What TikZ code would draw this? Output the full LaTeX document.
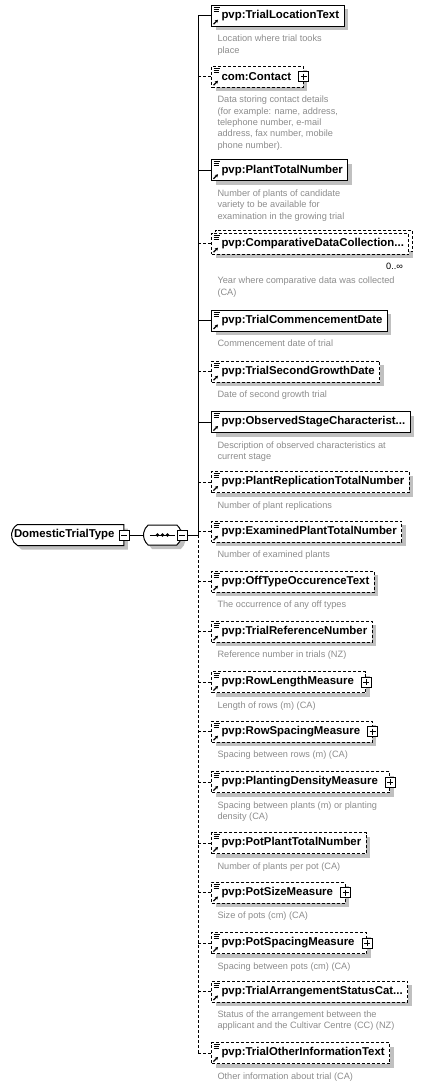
\documentclass[tikz,border=0pt]{standalone}
\usepackage{fontspec}
\setmainfont{Liberation Sans}
\usetikzlibrary{shapes.misc,shadows,arrows.meta}
\definecolor{desctext}{RGB}{140,140,140}
\definecolor{shadowgray}{RGB}{192,192,192}

\begin{document}
\begin{tikzpicture}[
  x=1pt, y=-1pt, line width=1pt,
  opt/.style={dash pattern=on 3pt off 2pt},
  elem/.style={draw, fill=white, anchor=west, minimum height=21pt,
    inner xsep=5pt, inner ysep=0pt,
    font=\fontsize{11.4}{13}\selectfont\bfseries,
    general shadow={fill=shadowgray, shadow xshift=4pt, shadow yshift=-4pt},
    execute at begin node={\hspace*{5pt}},
    path picture={
      \draw[solid, line width=0.8pt]
        ([shift={(2pt,-2pt)}]path picture bounding box.north west) -- ++(6pt,0pt)
        ([shift={(2pt,-4pt)}]path picture bounding box.north west) -- ++(5pt,0pt)
        ([shift={(2pt,-6pt)}]path picture bounding box.north west) -- ++(5pt,0pt);
      \draw[solid, line width=1.2pt, -{Stealth[length=3pt,width=3.5pt]}]
        ([shift={(2pt,2pt)}]path picture bounding box.south west) -- ++(4.5pt,4.5pt);
    }},
  kids/.style={execute at end node={\hspace*{7pt}}},
  desc/.style={anchor=north west, inner sep=0pt, align=left, text=desctext,
    font=\fontsize{9.2}{11.3}\selectfont},
  plusbox/.style={draw, solid, fill=white, minimum size=10pt, inner sep=0pt,
    path picture={\draw[solid]
      ([yshift=-2pt]path picture bounding box.north) -- ([yshift=2pt]path picture bounding box.south)
      ([xshift=2pt]path picture bounding box.west) -- ([xshift=-2pt]path picture bounding box.east);}},
  minusbox/.style={draw, solid, fill=white, minimum size=10pt, inner sep=0pt,
    path picture={\draw[solid]
      ([xshift=2pt]path picture bounding box.west) -- ([xshift=-2pt]path picture bounding box.east);}}
]
  \useasboundingbox (0,0) rectangle (431,1086);

  % root and sequence
  \node[draw, fill=white, anchor=west, rounded rectangle, rounded rectangle right arc=none,
    rounded rectangle arc length=120, minimum width=119pt, minimum height=21pt, inner ysep=0pt,
    font=\fontsize{11.4}{13}\selectfont\bfseries,
    general shadow={fill=shadowgray, shadow xshift=4pt, shadow yshift=-4pt}]
    (root) at (11,535) {DomesticTrialType\hspace*{8pt}};
  \node[minusbox] (rootminus) at (root.east) {};
  \node[draw, fill=white, anchor=west, rounded rectangle, rounded rectangle arc length=100,
    minimum width=38pt, minimum height=20pt, inner sep=0pt,
    general shadow={fill=shadowgray, shadow xshift=4pt, shadow yshift=-4pt},
    path picture={
      \draw[solid, line width=1pt] ([xshift=7pt]path picture bounding box.west) -- ([xshift=-7pt]path picture bounding box.east);
      \fill[black] ([xshift=-5pt]path picture bounding box.center) circle (1.8pt)
            (path picture bounding box.center) circle (1.8pt)
            ([xshift=5pt]path picture bounding box.center) circle (1.8pt);
    }] (seq) at (143,535) {};
  \node[minusbox] (seqminus) at (seq.east) {};
  \coordinate (bus) at (198,535);

  % child elements
  \node[elem] (loc) at (211,15.7) {pvp:TrialLocationText};
  \node[elem, opt, kids] (contact) at (211,76.7) {com:Contact};
  \node[plusbox] (contactplus) at (contact.east) {};
  \node[elem] (plantnum) at (211,170.3) {pvp:PlantTotalNumber};
  \node[elem, opt, general shadow={draw, fill=white, opt, shadow xshift=4pt, shadow yshift=3pt}]
    (compdata) at (211,243.7) {pvp:ComparativeDataCollection...};
  \node[elem] (commdate) at (211,320.5) {pvp:TrialCommencementDate};
  \node[elem, opt] (secdate) at (211,371.7) {pvp:TrialSecondGrowthDate};
  \node[elem] (obsstage) at (211,422) {pvp:ObservedStageCharacterist...};
  \node[elem, opt] (replic) at (211,482) {pvp:PlantReplicationTotalNumber};
  \node[elem, opt] (examined) at (211,531.7) {pvp:ExaminedPlantTotalNumber};
  \node[elem, opt] (offtype) at (211,581.7) {pvp:OffTypeOccurenceText};
  \node[elem, opt] (refnum) at (211,631.7) {pvp:TrialReferenceNumber};
  \node[elem, opt, kids] (rowlen) at (211,682) {pvp:RowLengthMeasure};
  \node[plusbox] (rowlenplus) at (rowlen.east) {};
  \node[elem, opt, kids] (rowspace) at (211,731.7) {pvp:RowSpacingMeasure};
  \node[plusbox] (rowspaceplus) at (rowspace.east) {};
  \node[elem, opt, kids] (density) at (211,782) {pvp:PlantingDensityMeasure};
  \node[plusbox] (densityplus) at (density.east) {};
  \node[elem, opt] (potplant) at (211,843) {pvp:PotPlantTotalNumber};
  \node[elem, opt, kids] (potsize) at (211,892.5) {pvp:PotSizeMeasure};
  \node[plusbox] (potsizeplus) at (potsize.east) {};
  \node[elem, opt, kids] (potspace) at (211,943) {pvp:PotSpacingMeasure};
  \node[plusbox] (potspaceplus) at (potspace.east) {};
  \node[elem, opt] (arrange) at (211,991.5) {pvp:TrialArrangementStatusCat...};
  \node[elem, opt] (otherinfo) at (211,1053) {pvp:TrialOtherInformationText};

  \node[anchor=north east, inner sep=0pt, font=\fontsize{9.2}{11}\selectfont]
    (compocc) at ([shift={(-6pt,-8pt)}]compdata.south east) {0..∞};

  % annotations
  \node[desc] (locdesc) at ([shift={(6pt,-8pt)}]loc.south west) {Location where trial tooks\\place};
  \node[desc] (contactdesc) at ([shift={(6pt,-8pt)}]contact.south west) {Data storing contact details\\(for example: name, address,\\telephone number, e-mail\\address, fax number, mobile\\phone number).};
  \node[desc] (plantnumdesc) at ([shift={(6pt,-8pt)}]plantnum.south west) {Number of plants of candidate\\variety to be available for\\examination in the growing trial};
  \node[desc] (compdatadesc) at ([shift={(6pt,-22pt)}]compdata.south west) {Year where comparative data was collected\\(CA)};
  \node[desc] (commdatedesc) at ([shift={(6pt,-8pt)}]commdate.south west) {Commencement date of trial};
  \node[desc] (secdatedesc) at ([shift={(6pt,-8pt)}]secdate.south west) {Date of second growth trial};
  \node[desc] (obsstagedesc) at ([shift={(6pt,-8pt)}]obsstage.south west) {Description of observed characteristics at\\current stage};
  \node[desc] (replicdesc) at ([shift={(6pt,-8pt)}]replic.south west) {Number of plant replications};
  \node[desc] (examineddesc) at ([shift={(6pt,-8pt)}]examined.south west) {Number of examined plants};
  \node[desc] (offtypedesc) at ([shift={(6pt,-8pt)}]offtype.south west) {The occurrence of any off types};
  \node[desc] (refnumdesc) at ([shift={(6pt,-8pt)}]refnum.south west) {Reference number in trials (NZ)};
  \node[desc] (rowlendesc) at ([shift={(6pt,-8pt)}]rowlen.south west) {Length of rows (m) (CA)};
  \node[desc] (rowspacedesc) at ([shift={(6pt,-8pt)}]rowspace.south west) {Spacing between rows (m) (CA)};
  \node[desc] (densitydesc) at ([shift={(6pt,-8pt)}]density.south west) {Spacing between plants (m) or planting\\density (CA)};
  \node[desc] (potplantdesc) at ([shift={(6pt,-8pt)}]potplant.south west) {Number of plants per pot (CA)};
  \node[desc] (potsizedesc) at ([shift={(6pt,-8pt)}]potsize.south west) {Size of pots (cm) (CA)};
  \node[desc] (potspacedesc) at ([shift={(6pt,-8pt)}]potspace.south west) {Spacing between pots (cm) (CA)};
  \node[desc] (arrangedesc) at ([shift={(6pt,-8pt)}]arrange.south west) {Status of the arrangement between the\\applicant and the Cultivar Centre (CC) (NZ)};
  \node[desc] (otherinfodesc) at ([shift={(6pt,-8pt)}]otherinfo.south west) {Other information about trial (CA)};

  % connectors
  \draw (rootminus.east) -- (seq.west);
  \draw (seqminus.east) -- (bus);
  \draw (loc.west -| bus) -- (bus);
  \draw[opt] (bus) -- (otherinfo.west -| bus);
  \draw (loc.west) -- (loc.west -| bus) (plantnum.west) -- (plantnum.west -| bus)
        (commdate.west) -- (commdate.west -| bus) (obsstage.west) -- (obsstage.west -| bus);
  \draw[opt] (contact.west) -- (contact.west -| bus) (compdata.west) -- (compdata.west -| bus)
        (secdate.west) -- (secdate.west -| bus) (replic.west) -- (replic.west -| bus)
        (examined.west) -- (examined.west -| bus) (offtype.west) -- (offtype.west -| bus)
        (refnum.west) -- (refnum.west -| bus) (rowlen.west) -- (rowlen.west -| bus)
        (rowspace.west) -- (rowspace.west -| bus) (density.west) -- (density.west -| bus)
        (potplant.west) -- (potplant.west -| bus) (potsize.west) -- (potsize.west -| bus)
        (potspace.west) -- (potspace.west -| bus) (arrange.west) -- (arrange.west -| bus)
        (otherinfo.west) -- (otherinfo.west -| bus);
\end{tikzpicture}
\end{document}
